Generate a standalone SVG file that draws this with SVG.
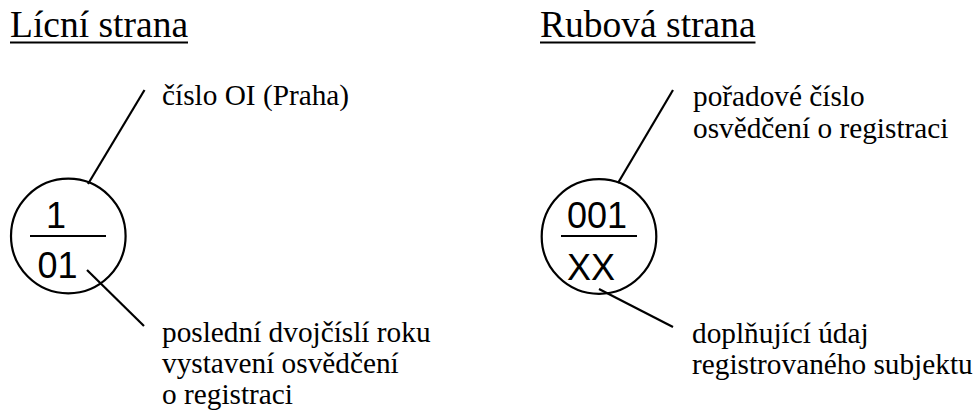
<svg xmlns="http://www.w3.org/2000/svg" width="975" height="417" viewBox="0 0 975 417">
<style>
.title{font-family:"Liberation Serif","Times New Roman",serif;font-size:37.5px;fill:#000}
.lbl{font-family:"Liberation Serif","Times New Roman",serif;font-size:29.3px;fill:#000}
.num{font-family:"Liberation Sans",Arial,sans-serif;font-size:36px;fill:#000}
.ring{fill:none;stroke:#000;stroke-width:2.2}
.ln{stroke:#000;stroke-width:2.2;fill:none}
</style>
<rect width="975" height="417" fill="#fff"/>
<g id="title-left">
<text class="title" x="10" y="37">Lícní strana</text>
<line class="ln" x1="10" y1="42.5" x2="188" y2="42.5"/>
</g>
<g id="title-right">
<text class="title" x="540" y="37">Rubová strana</text>
<line class="ln" x1="540" y1="42.5" x2="755.5" y2="42.5"/>
</g>
<g id="node-left">
<circle class="ring" cx="68.3" cy="236" r="57.3"/>
<line class="ln" x1="30" y1="236" x2="106" y2="236" stroke-width="2.5"/>
<text class="num" x="46" y="228">1</text>
<text class="num" x="37.5" y="278">01</text>
</g>
<g id="node-right">
<circle class="ring" cx="599" cy="236.5" r="57.3"/>
<line class="ln" x1="561" y1="236" x2="637" y2="236" stroke-width="2.5"/>
<text class="num" x="567" y="227.5">001</text>
<text class="num" x="567" y="279.5">XX</text>
</g>
<g id="label-left-top">
<text class="lbl" x="162" y="105">číslo OI (Praha)</text>
</g>
<g id="label-left-bottom">
<text class="lbl" x="162" y="342">poslední dvojčíslí roku</text>
<text class="lbl" x="162" y="373">vystavení osvědčení</text>
<text class="lbl" x="162" y="404">o registraci</text>
</g>
<g id="label-right-top">
<text class="lbl" x="693" y="105.5">pořadové číslo</text>
<text class="lbl" x="693" y="137.5">osvědčení o registraci</text>
</g>
<g id="label-right-bottom">
<text class="lbl" x="692" y="343">doplňující údaj</text>
<text class="lbl" x="692" y="374">registrovaného subjektu</text>
</g>
<g id="connectors">
<line class="ln" x1="88" y1="184" x2="144.5" y2="90"/>
<line class="ln" x1="87" y1="270" x2="144" y2="326"/>
<line class="ln" x1="618" y1="183" x2="673" y2="90"/>
<line class="ln" x1="599" y1="289" x2="673" y2="327"/>
</g>
</svg>
